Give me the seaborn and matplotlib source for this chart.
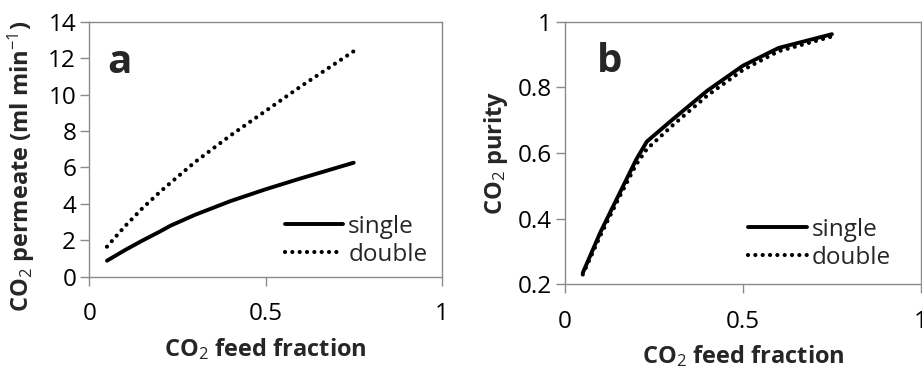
import numpy as np
import pandas as pd
import seaborn as sns
import matplotlib
matplotlib.use("Agg")
import matplotlib.pyplot as plt

# values
feed = [0.05, 0.1, 0.15, 0.2, 0.23, 0.3, 0.4, 0.5, 0.6, 0.75]
permeate_single = [0.88, 1.45, 1.98, 2.48, 2.8, 3.4, 4.15, 4.8, 5.4, 6.26]
permeate_double = [1.65, 2.75, 3.75, 4.65, 5.15, 6.3, 7.75, 9.1, 10.45, 12.38]
purity_single = [0.235, 0.36, 0.47, 0.58, 0.635, 0.70, 0.79, 0.866, 0.92, 0.962]
purity_double = [0.23, 0.35, 0.46, 0.565, 0.612, 0.682, 0.775, 0.853, 0.91, 0.955]

x_ticks = [0, 0.5, 1]
x_ticklabels = ["0", "0.5", "1"]
a_yticks = [0, 2, 4, 6, 8, 10, 12, 14]
b_yticks = [0.2, 0.4, 0.6, 0.8, 1.0]
b_yticklabels = ["0.2", "0.4", "0.6", "0.8", "1"]

sns.set_style("white")
FONT = "Open Sans"
plt.rcParams["font.family"] = [FONT, "DejaVu Sans"]
plt.rcParams["mathtext.fontset"] = "custom"
plt.rcParams["mathtext.rm"] = FONT
plt.rcParams["mathtext.it"] = FONT
plt.rcParams["mathtext.bf"] = FONT + ":bold"

GRAY = "#8a8a8a"
FS = 17.5
LFS = 17

fig = plt.figure(figsize=(9.22, 3.68), dpi=100)
ax_a = fig.add_axes([0.0969, 0.248, 0.3823, 0.693])
ax_b = fig.add_axes([0.6128, 0.2274, 0.3860, 0.7136])

df_a = pd.DataFrame({"x": feed * 2,
                     "y": permeate_single + permeate_double,
                     "mode": ["single"] * len(feed) + ["double"] * len(feed)})
df_b = pd.DataFrame({"x": feed * 2,
                     "y": purity_single + purity_double,
                     "mode": ["single"] * len(feed) + ["double"] * len(feed)})


def draw(ax, df):
    sub = df[df["mode"] == "single"]
    sns.lineplot(data=sub, x="x", y="y", ax=ax, color="black", lw=2.8,
                 solid_capstyle="round", label="single", legend=False)
    sub = df[df["mode"] == "double"]
    sns.lineplot(data=sub, x="x", y="y", ax=ax, color="black", lw=3.0,
                 linestyle=(0, (0.01, 1.75)), dash_capstyle="round",
                 label="double", legend=False)


draw(ax_a, df_a)
draw(ax_b, df_b)

for ax in (ax_a, ax_b):
    ax.set_xlim(0, 1)
    ax.set_xticks(x_ticks)
    ax.set_xticklabels(x_ticklabels)
    for s in ax.spines.values():
        s.set_visible(True)
        s.set_color(GRAY)
        s.set_linewidth(1.0)
    ax.tick_params(axis="both", which="major", direction="out", length=6.5,
                   width=1.0, color=GRAY, labelsize=FS, labelcolor="black",
                   left=True, bottom=True)
    ax.tick_params(axis="x", pad=12)
    ax.tick_params(axis="y", pad=3)

ax_a.set_ylim(0, 14)
ax_a.set_yticks(a_yticks)
ax_b.set_ylim(0.2, 1.0)
ax_b.set_yticks(b_yticks)
ax_b.set_yticklabels(b_yticklabels)

ax_a.set_xlabel(r"CO$_2$ feed fraction", fontsize=LFS, fontweight="bold")
ax_b.set_xlabel(r"CO$_2$ feed fraction", fontsize=LFS, fontweight="bold")
ax_a.set_ylabel(r"CO$_2$ permeate (ml min$^{-1}$)", fontsize=LFS, fontweight="bold")
ax_b.set_ylabel(r"CO$_2$ purity", fontsize=LFS, fontweight="bold")
ax_a.xaxis.set_label_coords(0.5, -0.235)
ax_b.xaxis.set_label_coords(0.5, -0.225)
ax_a.yaxis.set_label_coords(-0.148, 0.434)
ax_b.yaxis.set_label_coords(-0.155, 0.5)

ax_a.text(0.05, 0.80, "a", transform=ax_a.transAxes, fontsize=29,
          fontweight="bold")
ax_b.text(0.089, 0.81, "b", transform=ax_b.transAxes, fontsize=29,
          fontweight="bold")

for ax, anchor in ((ax_a, (0.555, 0.04)), (ax_b, (0.515, 0.056))):
    ax.legend(loc="lower left", bbox_to_anchor=anchor, frameon=False,
              fontsize=FS, handlelength=2.4, handletextpad=0.2,
              labelspacing=0.15, borderpad=0, borderaxespad=0)

fig.savefig("out.png", dpi=100)
